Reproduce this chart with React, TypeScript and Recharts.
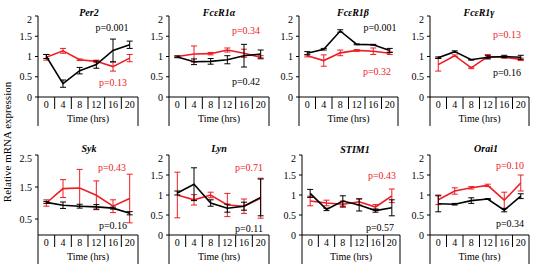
import React from 'react';
import { LineChart, Line, XAxis, YAxis, ErrorBar } from 'recharts';

const FONT = 'Liberation Serif, Times New Roman, serif';
const RED = '#ee1d24';
const BLACK = '#000000';

const hours = ['0', '4', '8', '12', '16', '20'];
const ticks2 = [0, 0.5, 1, 1.5, 2];
const ticks25 = [0, 0.5, 1, 1.5, 2, 2.5];

// Per2
const per2Black = [1.0, 0.33, 0.65, 0.8, 1.15, 1.29];
const per2BlackErr = [0.05, 0.09, 0.08, 0.09, 0.28, 0.09];
const per2Red = [0.98, 1.14, 0.92, 0.88, 0.75, 0.96];
const per2RedErr = [0.07, 0.06, 0.02, 0.03, 0.11, 0.09];

// FcεR1α
const r1aBlack = [0.99, 0.87, 0.88, 0.92, 1.02, 1.06];
const r1aBlackErr = [0.02, 0.07, 0.07, 0.1, 0.28, 0.1];
const r1aRed = [1.0, 1.06, 1.07, 1.16, 1.08, 0.98];
const r1aRedErr = [0.02, 0.2, 0.03, 0.05, 0.1, 0.04];

// FcεR1β
const r1bBlack = [1.08, 1.18, 1.63, 1.3, 1.29, 1.15];
const r1bBlackErr = [0.04, 0.02, 0.03, 0.01, 0.01, 0.05];
const r1bRed = [1.02, 0.9, 1.09, 1.15, 1.13, 1.08];
const r1bRedErr = [0.03, 0.14, 0.07, 0.02, 0.08, 0.03];

// FcεR1γ
const r1gBlack = [0.97, 1.12, 0.92, 0.98, 1.0, 0.98];
const r1gBlackErr = [0.02, 0.02, 0.01, 0.04, 0.03, 0.05];
const r1gRed = [0.8, 1.02, 0.72, 1.0, 0.98, 0.93];
const r1gRedErr = [0.16, 0.02, 0.02, 0.05, 0.02, 0.03];

// Syk
const sykBlack = [1.02, 0.93, 0.9, 0.88, 0.84, 0.68];
const sykBlackErr = [0.03, 0.1, 0.06, 0.07, 0.03, 0.05];
const sykRed = [1.0, 1.45, 1.47, 1.24, 0.9, 1.14];
const sykRedErr = [0.1, 0.28, 0.58, 0.45, 0.2, 0.76];

// Lyn
const lynBlack = [1.05, 1.27, 0.8, 0.67, 0.72, 0.94];
const lynBlackErr = [0.05, 0.41, 0.08, 0.1, 0.1, 0.46];
const lynRed = [1.0, 0.88, 1.0, 0.75, 0.72, 0.92];
const lynRedErr = [0.57, 0.13, 0.07, 0.29, 0.18, 0.5];

// STIM1
const stimBlack = [1.04, 0.64, 0.85, 0.75, 0.61, 0.68];
const stimBlackErr = [0.1, 0.03, 0.13, 0.15, 0.04, 0.2];
const stimRed = [0.85, 0.8, 0.77, 0.83, 0.7, 0.98];
const stimRedErr = [0.12, 0.07, 0.08, 0.08, 0.06, 0.17];

// Orai1
const oraiBlack = [0.78, 0.77, 0.86, 0.9, 0.62, 0.97];
const oraiBlackErr = [0.2, 0.02, 0.07, 0.01, 0.04, 0.06];
const oraiRed = [0.88, 1.1, 1.18, 1.24, 0.87, 1.3];
const oraiRedErr = [0.12, 0.08, 0.03, 0.03, 0.2, 0.2];

const titles = ['Per2', 'FcεR1α', 'FcεR1β', 'FcεR1γ', 'Syk', 'Lyn', 'STIM1', 'Orai1'];
const pBlack = ['p=0.001', 'p=0.42', 'p=0.001', 'p=0.16', 'p=0.16', 'p=0.11', 'p=0.57', 'p=0.34'];
const pRed = ['p=0.13', 'p=0.34', 'p=0.32', 'p=0.13', 'p=0.43', 'p=0.71', 'p=0.43', 'p=0.10'];

const Y_AXIS_W = 30;
const TOP_M = 2;
const X_AXIS_H = 30;

type PanelDef = {
  black: number[];
  blackErr: number[];
  red: number[];
  redErr: number[];
  yMax: number;
  yTicks: number[];
  left: number;
  right: number;
  top: number;
  bottom: number;
  titleX: number;
  titleY: number;
  pBlackXY: [number, number];
  pRedXY: [number, number];
};

const panels: PanelDef[] = [
  { black: per2Black, blackErr: per2BlackErr, red: per2Red, redErr: per2RedErr, yMax: 2, yTicks: ticks2,
    left: 38, right: 138, top: 16, bottom: 97, titleX: 89, titleY: 12, pBlackXY: [112, 27], pRedXY: [113, 82] },
  { black: r1aBlack, blackErr: r1aBlackErr, red: r1aRed, redErr: r1aRedErr, yMax: 2, yTicks: ticks2,
    left: 169, right: 269, top: 16, bottom: 97, titleX: 219, titleY: 12, pBlackXY: [246, 81], pRedXY: [246, 30] },
  { black: r1bBlack, blackErr: r1bBlackErr, red: r1bRed, redErr: r1bRedErr, yMax: 2, yTicks: ticks2,
    left: 299, right: 398, top: 16, bottom: 97, titleX: 353, titleY: 12, pBlackXY: [380, 27], pRedXY: [377, 71] },
  { black: r1gBlack, blackErr: r1gBlackErr, red: r1gRed, redErr: r1gRedErr, yMax: 2, yTicks: ticks2,
    left: 430, right: 529, top: 16, bottom: 97, titleX: 479, titleY: 12, pBlackXY: [507, 72], pRedXY: [507, 34] },
  { black: sykBlack, blackErr: sykBlackErr, red: sykRed, redErr: sykRedErr, yMax: 2.5, yTicks: ticks25,
    left: 38, right: 138, top: 155, bottom: 235, titleX: 89, titleY: 148, pBlackXY: [113, 225], pRedXY: [112, 167] },
  { black: lynBlack, blackErr: lynBlackErr, red: lynRed, redErr: lynRedErr, yMax: 2, yTicks: ticks2,
    left: 169, right: 269, top: 155, bottom: 235, titleX: 219, titleY: 148, pBlackXY: [249, 228], pRedXY: [249, 167] },
  { black: stimBlack, blackErr: stimBlackErr, red: stimRed, redErr: stimRedErr, yMax: 2, yTicks: ticks2,
    left: 302, right: 400, top: 155, bottom: 235, titleX: 355, titleY: 149, pBlackXY: [380, 227], pRedXY: [382, 175] },
  { black: oraiBlack, blackErr: oraiBlackErr, red: oraiRed, redErr: oraiRedErr, yMax: 2, yTicks: ticks2,
    left: 430, right: 529, top: 155, bottom: 235, titleX: 486, titleY: 148, pBlackXY: [510, 223], pRedXY: [510, 165] },
];

function Panel({ p }: { p: PanelDef }) {
  const plotW = p.right - p.left;
  const plotH = p.bottom - p.top;
  const bw = plotW / hours.length;
  const data = hours.map((h, i) => ({
    hour: h,
    black: p.black[i],
    blackErr: p.blackErr[i],
    red: p.red[i],
    redErr: p.redErr[i],
  }));

  // category label plus the Excel-style separators between bands
  const renderTick = (props: any) => {
    const { x, y, payload } = props;
    const i = props.index ?? payload.index ?? 0;
    const l = x - bw / 2;
    const r = x + bw / 2;
    return (
      <g>
        <line x1={l} x2={l} y1={y} y2={y + (i === 0 ? 29 : 12)} stroke="#000" strokeWidth={1} />
        {i === hours.length - 1 && <line x1={r} x2={r} y1={y} y2={y + 29} stroke="#000" strokeWidth={1} />}
        <text x={x} y={y + 11} textAnchor="middle" fontSize={10} fontFamily={FONT} fill="#000">
          {payload.value}
        </text>
      </g>
    );
  };

  return (
    <div style={{ position: 'absolute', left: p.left - Y_AXIS_W, top: p.top - TOP_M }}>
      <LineChart
        width={plotW + Y_AXIS_W + 4}
        height={plotH + TOP_M + X_AXIS_H}
        data={data}
        margin={{ top: TOP_M, right: 4, bottom: 0, left: 0 }}
      >
        <XAxis
          dataKey="hour"
          scale="band"
          interval={0}
          tickLine={false}
          tickSize={0}
          tickMargin={0}
          height={X_AXIS_H}
          axisLine={{ stroke: '#000' }}
          tick={renderTick}
          label={{ value: 'Time (hrs)', position: 'insideBottom', offset: 5, fontSize: 10, fontFamily: FONT, fill: '#000' }}
        />
        <YAxis
          width={Y_AXIS_W}
          domain={[0, p.yMax]}
          ticks={p.yTicks}
          allowDataOverflow
          tickSize={3}
          tickMargin={3}
          axisLine={{ stroke: '#000' }}
          tickLine={{ stroke: '#000' }}
          tick={{ fill: '#000', fontSize: 10, fontFamily: FONT }}
        />
        <Line dataKey="red" stroke={RED} strokeWidth={1.6} dot={false} isAnimationActive={false}>
          <ErrorBar dataKey="redErr" width={3} stroke={RED} strokeWidth={1} />
        </Line>
        <Line dataKey="black" stroke={BLACK} strokeWidth={1.6} dot={false} isAnimationActive={false}>
          <ErrorBar dataKey="blackErr" width={3} stroke={BLACK} strokeWidth={1} />
        </Line>
      </LineChart>
    </div>
  );
}

export default function App() {
  return (
    <div
      style={{
        position: 'absolute',
        left: 0,
        top: 0,
        width: 544,
        height: 264,
        background: '#fff',
        overflow: 'hidden',
        fontFamily: FONT,
      }}
    >
      {panels.map((p, i) => (
        <Panel key={titles[i]} p={p} />
      ))}
      <svg width={544} height={264} style={{ position: 'absolute', left: 0, top: 0, pointerEvents: 'none' }}>
        <text
          transform="translate(11,142) rotate(-90)"
          textAnchor="middle"
          fontSize={11}
          fontFamily={FONT}
          fill="#000"
        >
          Relative mRNA expression
        </text>
        {panels.map((p, i) => (
          <g key={titles[i]} fontFamily={FONT} fontSize={10}>
            <text x={p.titleX} y={p.titleY} dy="0.35em" textAnchor="middle" fontWeight="bold" fontStyle="italic" fill="#000">
              {titles[i]}
            </text>
            <text x={p.pBlackXY[0]} y={p.pBlackXY[1]} dy="0.35em" textAnchor="middle" fill="#000">
              {pBlack[i]}
            </text>
            <text x={p.pRedXY[0]} y={p.pRedXY[1]} dy="0.35em" textAnchor="middle" fill={RED}>
              {pRed[i]}
            </text>
          </g>
        ))}
      </svg>
    </div>
  );
}
